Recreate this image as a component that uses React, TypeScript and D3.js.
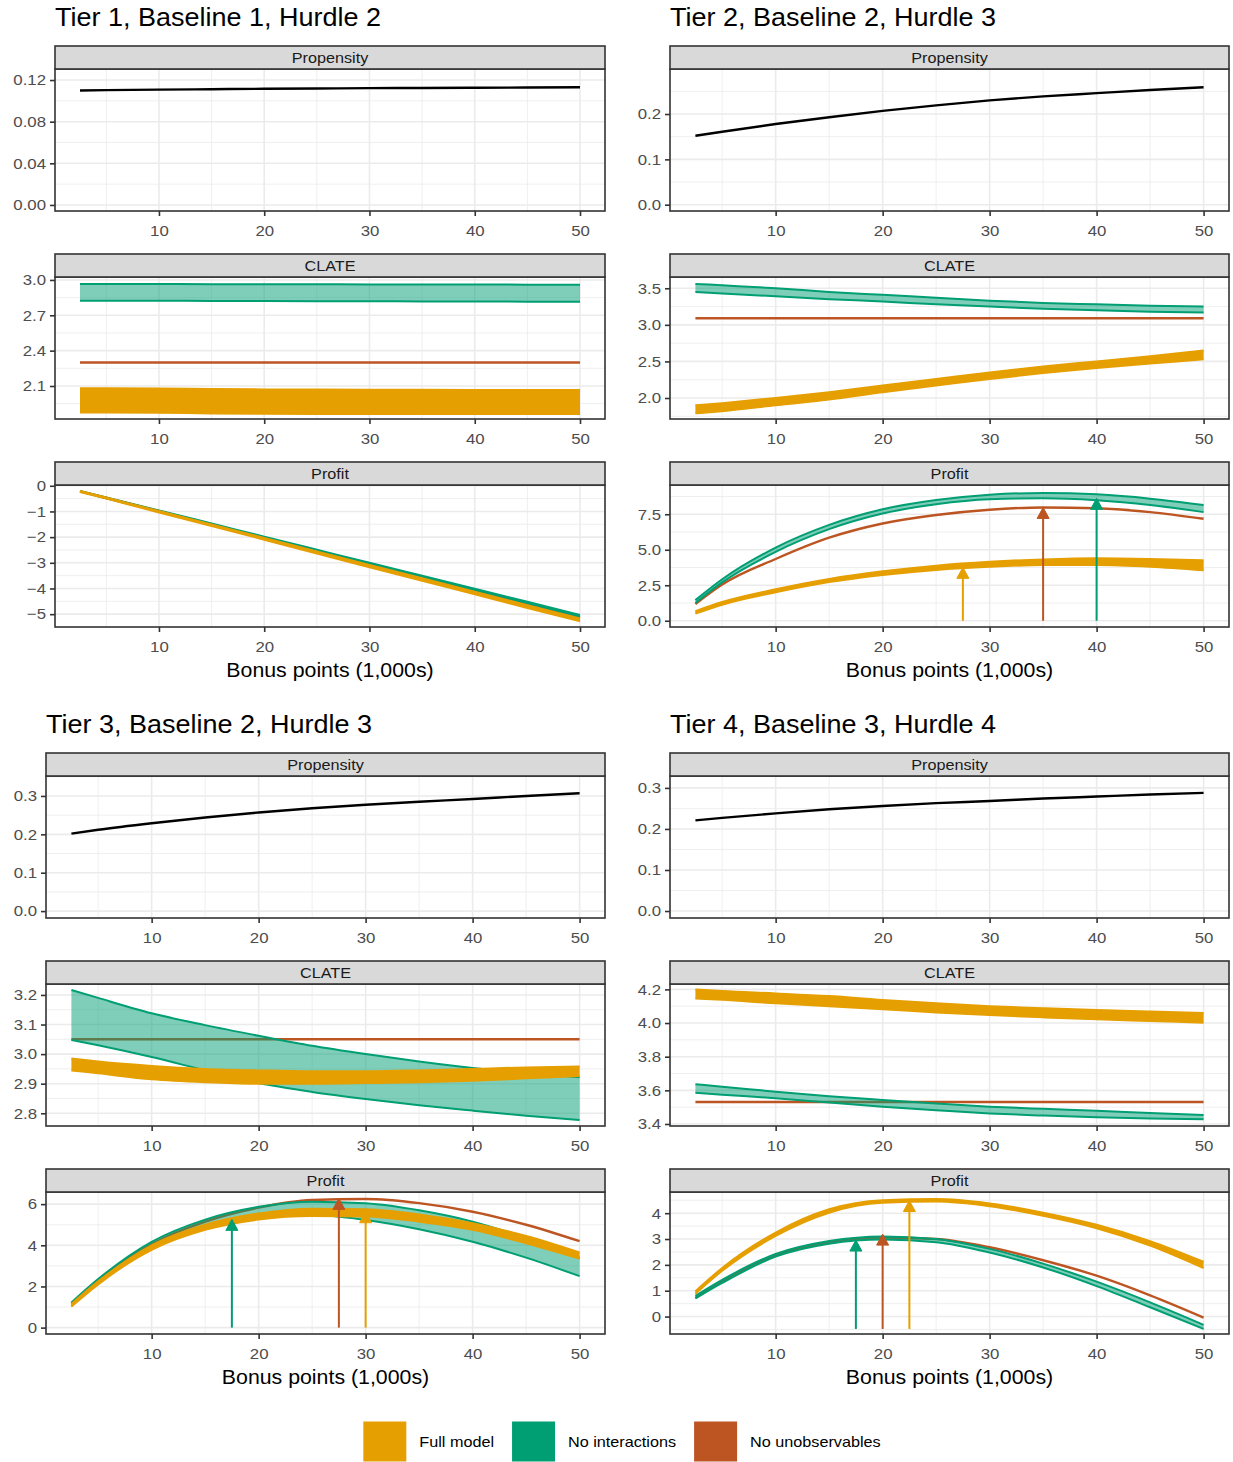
import React, { useEffect, useRef } from "react";
import * as d3 from "d3";

// bonus points (1,000s) at which the curves were evaluated
const bonus = [2.5, 5, 10, 15, 20, 25, 30, 35, 40, 45, 50];

const models = ["Full model", "No interactions", "No unobservables"];
const modelColors = ["#E69F00", "#009E73", "#BC5522"];
const facetNames = ["Propensity", "CLATE", "Profit"];

// ---------- Tier 1 ----------
const t1Propensity = [0.1100, 0.1103, 0.1108, 0.1112, 0.1116, 0.1119, 0.1122, 0.1124, 0.1126, 0.1128, 0.1130];
const t1ClateFullHi = [2.080, 2.080, 2.079, 2.074, 2.071, 2.070, 2.069, 2.068, 2.067, 2.066, 2.066];
const t1ClateFullLo = [1.876, 1.876, 1.874, 1.867, 1.864, 1.863, 1.863, 1.862, 1.862, 1.862, 1.862];
const t1ClateNoIntHi = [2.966, 2.966, 2.965, 2.964, 2.964, 2.963, 2.962, 2.962, 2.961, 2.960, 2.960];
const t1ClateNoIntLo = [2.824, 2.824, 2.823, 2.822, 2.821, 2.820, 2.819, 2.818, 2.817, 2.816, 2.816];
const t1ClateNoUnobs = [2.30, 2.30, 2.30, 2.30, 2.30, 2.30, 2.30, 2.30, 2.30, 2.30, 2.30];
const t1ProfitFullHi = [-0.20, -0.46, -0.98, -1.51, -2.03, -2.56, -3.08, -3.60, -4.13, -4.65, -5.17];
const t1ProfitFullLo = [-0.24, -0.50, -1.04, -1.57, -2.10, -2.64, -3.17, -3.70, -4.23, -4.76, -5.28];
const t1ProfitNoIntHi = [-0.20, -0.455, -0.96, -1.47, -1.98, -2.49, -3.00, -3.50, -4.01, -4.52, -5.03];
const t1ProfitNoIntLo = [-0.22, -0.485, -1.00, -1.51, -2.02, -2.53, -3.04, -3.56, -4.07, -4.58, -5.09];
const t1ProfitNoUnobs = [-0.22, -0.475, -0.99, -1.51, -2.03, -2.55, -3.06, -3.58, -4.10, -4.62, -5.14];
const t1Limits = [[-0.0058, 0.1306], [1.82, 3.025], [-5.5, 0.03]];
const t1Ticks = [[0, 0.04, 0.08, 0.12], [2.1, 2.4, 2.7, 3.0], [-5, -4, -3, -2, -1, 0]];
const t1TickLabels = [["0.00", "0.04", "0.08", "0.12"], ["2.1", "2.4", "2.7", "3.0"], ["\u22125", "\u22124", "\u22123", "\u22122", "\u22121", "0"]];

// ---------- Tier 2 ----------
const t2Propensity = [0.152, 0.161, 0.178, 0.193, 0.207, 0.219, 0.230, 0.239, 0.246, 0.253, 0.259];
const t2ClateFullHi = [1.90, 1.93, 2.00, 2.08, 2.17, 2.26, 2.35, 2.43, 2.50, 2.57, 2.65];
const t2ClateFullLo = [1.79, 1.82, 1.90, 1.98, 2.08, 2.17, 2.26, 2.34, 2.41, 2.47, 2.53];
const t2ClateNoIntHi = [3.56, 3.54, 3.50, 3.45, 3.41, 3.37, 3.33, 3.30, 3.28, 3.26, 3.25];
const t2ClateNoIntLo = [3.45, 3.43, 3.39, 3.35, 3.32, 3.28, 3.25, 3.22, 3.20, 3.18, 3.17];
const t2ClateNoUnobs = [3.09, 3.09, 3.09, 3.09, 3.09, 3.09, 3.09, 3.09, 3.09, 3.09, 3.09];
const t2ProfitFullHi = [0.68, 1.32, 2.22, 2.95, 3.48, 3.88, 4.15, 4.32, 4.40, 4.35, 4.25];
const t2ProfitFullLo = [0.50, 1.13, 2.00, 2.72, 3.22, 3.58, 3.80, 3.92, 3.92, 3.80, 3.55];
const t2ProfitNoIntHi = [1.45, 2.92, 5.15, 6.75, 7.85, 8.50, 8.88, 9.00, 8.90, 8.60, 8.15];
const t2ProfitNoIntLo = [1.25, 2.70, 4.85, 6.45, 7.55, 8.20, 8.55, 8.62, 8.48, 8.15, 7.65];
const t2ProfitNoUnobs = [1.18, 2.55, 4.35, 5.85, 6.85, 7.45, 7.82, 7.98, 7.92, 7.65, 7.18];
const t2ArrowModel = ["Full model", "No unobservables", "No interactions"];
const t2ArrowX = [27.5, 35, 40];
const t2ArrowTip = [3.76, 7.98, 8.62];
const t2Limits = [[-0.0139, 0.2993], [1.713, 3.654], [-0.44, 9.56]];
const t2Ticks = [[0, 0.1, 0.2], [2.0, 2.5, 3.0, 3.5], [0, 2.5, 5, 7.5]];
const t2TickLabels = [["0.0", "0.1", "0.2"], ["2.0", "2.5", "3.0", "3.5"], ["0.0", "2.5", "5.0", "7.5"]];

// ---------- Tier 3 ----------
const t3Propensity = [0.202, 0.212, 0.229, 0.244, 0.257, 0.268, 0.277, 0.285, 0.292, 0.300, 0.307];
const t3ClateFullHi = [2.985, 2.975, 2.960, 2.950, 2.945, 2.942, 2.942, 2.945, 2.950, 2.955, 2.958];
const t3ClateFullLo = [2.945, 2.935, 2.915, 2.905, 2.900, 2.900, 2.902, 2.905, 2.910, 2.918, 2.926];
const t3ClateNoIntHi = [3.217, 3.190, 3.138, 3.098, 3.062, 3.028, 3.000, 2.975, 2.953, 2.936, 2.922];
const t3ClateNoIntLo = [3.048, 3.030, 2.990, 2.945, 2.902, 2.872, 2.848, 2.827, 2.809, 2.792, 2.777];
const t3ClateNoUnobs = [3.05, 3.05, 3.05, 3.05, 3.05, 3.05, 3.05, 3.05, 3.05, 3.05, 3.05];
const t3ProfitFullHi = [1.15, 2.25, 4.00, 5.00, 5.55, 5.78, 5.75, 5.50, 5.07, 4.45, 3.65];
const t3ProfitFullLo = [1.02, 2.10, 3.78, 4.75, 5.25, 5.42, 5.40, 5.15, 4.75, 4.10, 3.35];
const t3ProfitNoIntHi = [1.22, 2.36, 4.17, 5.25, 5.87, 6.12, 6.04, 5.70, 5.15, 4.35, 3.40];
const t3ProfitNoIntLo = [1.05, 2.20, 3.93, 4.85, 5.36, 5.47, 5.23, 4.78, 4.17, 3.40, 2.50];
const t3ProfitNoUnobs = [1.15, 2.30, 4.05, 5.15, 5.83, 6.20, 6.25, 6.05, 5.63, 5.00, 4.20];
const t3ArrowModel = ["No interactions", "No unobservables", "Full model"];
const t3ArrowX = [17.5, 27.5, 30];
const t3ArrowTip = [5.26, 6.28, 5.63];
const t3Limits = [[-0.018, 0.352], [2.757, 3.237], [-0.31, 6.59]];
const t3Ticks = [[0, 0.1, 0.2, 0.3], [2.8, 2.9, 3.0, 3.1, 3.2], [0, 2, 4, 6]];
const t3TickLabels = [["0.0", "0.1", "0.2", "0.3"], ["2.8", "2.9", "3.0", "3.1", "3.2"], ["0", "2", "4", "6"]];

// ---------- Tier 4 ----------
const t4Propensity = [0.221, 0.227, 0.238, 0.248, 0.256, 0.263, 0.268, 0.274, 0.279, 0.284, 0.288];
const t4ClateFullHi = [4.200, 4.190, 4.176, 4.160, 4.137, 4.117, 4.100, 4.088, 4.077, 4.068, 4.060];
const t4ClateFullLo = [4.146, 4.138, 4.117, 4.100, 4.082, 4.063, 4.047, 4.034, 4.022, 4.012, 4.002];
const t4ClateNoIntHi = [3.636, 3.622, 3.592, 3.565, 3.543, 3.522, 3.503, 3.490, 3.479, 3.465, 3.453];
const t4ClateNoIntLo = [3.586, 3.574, 3.553, 3.527, 3.503, 3.482, 3.463, 3.450, 3.440, 3.432, 3.428];
const t4ClateNoUnobs = [3.531, 3.531, 3.531, 3.531, 3.531, 3.531, 3.531, 3.531, 3.531, 3.531, 3.531];
const t4ProfitFullHi = [0.98, 1.88, 3.25, 4.15, 4.50, 4.55, 4.38, 4.02, 3.55, 2.92, 2.12];
const t4ProfitFullLo = [0.88, 1.77, 3.12, 4.02, 4.40, 4.45, 4.27, 3.90, 3.42, 2.75, 1.88];
const t4ProfitNoIntHi = [0.80, 1.42, 2.42, 2.92, 3.10, 3.00, 2.62, 2.05, 1.35, 0.55, -0.32];
const t4ProfitNoIntLo = [0.70, 1.30, 2.32, 2.82, 2.98, 2.88, 2.48, 1.90, 1.18, 0.36, -0.48];
const t4ProfitNoUnobs = [0.72, 1.36, 2.36, 2.88, 3.06, 3.00, 2.68, 2.18, 1.58, 0.82, -0.04];
const t4ArrowModel = ["No interactions", "No unobservables", "Full model"];
const t4ArrowX = [17.5, 20, 22.5];
const t4ArrowTip = [2.96, 3.19, 4.49];
const t4Limits = [[-0.017, 0.329], [3.388, 4.232], [-0.675, 4.82]];
const t4Ticks = [[0, 0.1, 0.2, 0.3], [3.4, 3.6, 3.8, 4.0, 4.2], [0, 1, 2, 3, 4]];
const t4TickLabels = [["0.0", "0.1", "0.2", "0.3"], ["3.4", "3.6", "3.8", "4.0", "4.2"], ["0", "1", "2", "3", "4"]];

const tiers = [
  {
    title: "Tier 1, Baseline 1, Hurdle 2",
    propensity: t1Propensity,
    clate: { full: [t1ClateFullLo, t1ClateFullHi], noInt: [t1ClateNoIntLo, t1ClateNoIntHi], noUnobs: t1ClateNoUnobs },
    profit: { full: [t1ProfitFullLo, t1ProfitFullHi], noInt: [t1ProfitNoIntLo, t1ProfitNoIntHi], noUnobs: t1ProfitNoUnobs },
    arrows: { model: [], x: [], tip: [] },
    limits: t1Limits, ticks: t1Ticks, tickLabels: t1TickLabels,
  },
  {
    title: "Tier 2, Baseline 2, Hurdle 3",
    propensity: t2Propensity,
    clate: { full: [t2ClateFullLo, t2ClateFullHi], noInt: [t2ClateNoIntLo, t2ClateNoIntHi], noUnobs: t2ClateNoUnobs },
    profit: { full: [t2ProfitFullLo, t2ProfitFullHi], noInt: [t2ProfitNoIntLo, t2ProfitNoIntHi], noUnobs: t2ProfitNoUnobs },
    arrows: { model: t2ArrowModel, x: t2ArrowX, tip: t2ArrowTip },
    limits: t2Limits, ticks: t2Ticks, tickLabels: t2TickLabels,
  },
  {
    title: "Tier 3, Baseline 2, Hurdle 3",
    propensity: t3Propensity,
    clate: { full: [t3ClateFullLo, t3ClateFullHi], noInt: [t3ClateNoIntLo, t3ClateNoIntHi], noUnobs: t3ClateNoUnobs },
    profit: { full: [t3ProfitFullLo, t3ProfitFullHi], noInt: [t3ProfitNoIntLo, t3ProfitNoIntHi], noUnobs: t3ProfitNoUnobs },
    arrows: { model: t3ArrowModel, x: t3ArrowX, tip: t3ArrowTip },
    limits: t3Limits, ticks: t3Ticks, tickLabels: t3TickLabels,
  },
  {
    title: "Tier 4, Baseline 3, Hurdle 4",
    propensity: t4Propensity,
    clate: { full: [t4ClateFullLo, t4ClateFullHi], noInt: [t4ClateNoIntLo, t4ClateNoIntHi], noUnobs: t4ClateNoUnobs },
    profit: { full: [t4ProfitFullLo, t4ProfitFullHi], noInt: [t4ProfitNoIntLo, t4ProfitNoIntHi], noUnobs: t4ProfitNoUnobs },
    arrows: { model: t4ArrowModel, x: t4ArrowX, tip: t4ArrowTip },
    limits: t4Limits, ticks: t4Ticks, tickLabels: t4TickLabels,
  },
];

// layout of the four sub-plots (panel left / right edge, first strip top)
const W = 1233;
const H = 1462;
const blocks = [
  { left: 55, right: 605, top: 46 },
  { left: 670, right: 1229, top: 46 },
  { left: 46, right: 605, top: 753 },
  { left: 670, right: 1229, top: 753 },
];
const STRIP_H = 23;
const PANEL_H = 142;
const FACET_STEP = 208;
const FONT = "'Liberation Sans', Arial, Helvetica, sans-serif";
// the original text is a little wider than the font's natural width
const STRETCH = 1.08;
const TICK_STRETCH = 1.12;
const colorOf = (m) => modelColors[models.indexOf(m)];

//Adds a horizontally stretched text at (x, y)
function wideText(sel, x, y, s) {
  return sel.append("text")
    .attr("x", x / s).attr("y", y)
    .attr("transform", `scale(${s},1)`);
}

function App() {
  const svgRef = useRef(null);

  useEffect(() => {
    const svg = d3.select(svgRef.current);
    svg.selectAll("*").remove();
    svg.attr("font-family", FONT);
    svg.append("rect").attr("width", W).attr("height", H).attr("fill", "#fff");
    const defs = svg.append("defs");

    const xExt = d3.extent(bonus);
    const xPad = (xExt[1] - xExt[0]) * 0.05;

    blocks.forEach((b, bi) => {
      const tier = tiers[bi];
      const x = d3.scaleLinear().domain([xExt[0] - xPad, xExt[1] + xPad]).range([b.left, b.right]);

      wideText(svg, b.left, b.top - 20, STRETCH)
        .attr("font-size", 25).attr("fill", "#000")
        .text(tier.title);

      facetNames.forEach((name, fi) => {
        const stripTop = b.top + fi * FACET_STEP;
        const pTop = stripTop + STRIP_H;
        const pBot = pTop + PANEL_H;
        const lim = tier.limits[fi];
        const ticks = tier.ticks[fi];
        const labels = tier.tickLabels[fi];
        const y = d3.scaleLinear().domain(lim).range([pBot, pTop]);
        const g = svg.append("g");

        //panel background
        g.append("rect").attr("x", b.left).attr("y", pTop)
          .attr("width", b.right - b.left).attr("height", PANEL_H).attr("fill", "#fff");

        //grid lines, minor first
        const step = ticks[1] - ticks[0];
        const yMinor = [ticks[0] - step / 2, ...ticks.map(t => t + step / 2)]
          .filter(v => v > lim[0] && v < lim[1]);
        const xMajor = [10, 20, 30, 40, 50];
        const xMinor = [5, 15, 25, 35, 45];
        g.selectAll(".ymin").data(yMinor).join("line")
          .attr("x1", b.left).attr("x2", b.right)
          .attr("y1", d => y(d)).attr("y2", d => y(d))
          .attr("stroke", "#EBEBEB").attr("stroke-width", 0.8);
        g.selectAll(".xmin").data(xMinor).join("line")
          .attr("x1", d => x(d)).attr("x2", d => x(d))
          .attr("y1", pTop).attr("y2", pBot)
          .attr("stroke", "#EBEBEB").attr("stroke-width", 0.8);
        g.selectAll(".ymaj").data(ticks).join("line")
          .attr("x1", b.left).attr("x2", b.right)
          .attr("y1", d => y(d)).attr("y2", d => y(d))
          .attr("stroke", "#EBEBEB").attr("stroke-width", 1.6);
        g.selectAll(".xmaj").data(xMajor).join("line")
          .attr("x1", d => x(d)).attr("x2", d => x(d))
          .attr("y1", pTop).attr("y2", pBot)
          .attr("stroke", "#EBEBEB").attr("stroke-width", 1.6);

        //clip for the data
        const clipId = `clip-${bi}-${fi}`;
        defs.append("clipPath").attr("id", clipId)
          .append("rect").attr("x", b.left).attr("y", pTop)
          .attr("width", b.right - b.left).attr("height", PANEL_H);
        const data = g.append("g").attr("clip-path", `url(#${clipId})`);

        const line = d3.line().x((d, i) => x(bonus[i])).y(d => y(d)).curve(d3.curveMonotoneX);
        const area = d3.area().x((d, i) => x(bonus[i]))
          .y0(d => y(d[0])).y1(d => y(d[1])).curve(d3.curveMonotoneX);

        if (name === "Propensity") {
          data.append("path").attr("d", line(tier.propensity))
            .attr("fill", "none").attr("stroke", "#000").attr("stroke-width", 2.4);
        } else {
          const series = name === "CLATE" ? tier.clate : tier.profit;
          //No unobservables: single line
          data.append("path").attr("d", line(series.noUnobs))
            .attr("fill", "none").attr("stroke", colorOf("No unobservables")).attr("stroke-width", 2.4);
          //No interactions: translucent ribbon with edges
          const ni = series.noInt[0].map((v, i) => [v, series.noInt[1][i]]);
          data.append("path").attr("d", area(ni))
            .attr("fill", colorOf("No interactions")).attr("fill-opacity", 0.5);
          series.noInt.forEach(s => data.append("path").attr("d", line(s))
            .attr("fill", "none").attr("stroke", colorOf("No interactions")).attr("stroke-width", 2));
          //Full model: solid ribbon
          const fm = series.full[0].map((v, i) => [v, series.full[1][i]]);
          data.append("path").attr("d", area(fm)).attr("fill", colorOf("Full model"));
          series.full.forEach(s => data.append("path").attr("d", line(s))
            .attr("fill", "none").attr("stroke", colorOf("Full model")).attr("stroke-width", 2));

          //optimum arrows on profit
          if (name === "Profit") {
            const all = [...series.noUnobs, ...series.noInt[0], ...series.full[0]];
            const base = Math.min(0, d3.min(all));
            tier.arrows.x.forEach((ax, i) => {
              const c = colorOf(tier.arrows.model[i]);
              const tipY = y(tier.arrows.tip[i]);
              const headLen = 11, headW = 6;
              data.append("line")
                .attr("x1", x(ax)).attr("x2", x(ax))
                .attr("y1", y(base)).attr("y2", tipY + headLen - 1)
                .attr("stroke", c).attr("stroke-width", 2);
              data.append("path")
                .attr("d", `M${x(ax)},${tipY}L${x(ax) - headW},${tipY + headLen}L${x(ax) + headW},${tipY + headLen}Z`)
                .attr("fill", c).attr("stroke", c).attr("stroke-width", 1);
            });
          }
        }

        //panel border
        g.append("rect").attr("x", b.left).attr("y", pTop)
          .attr("width", b.right - b.left).attr("height", PANEL_H)
          .attr("fill", "none").attr("stroke", "#333333").attr("stroke-width", 1.6);

        //strip
        g.append("rect").attr("x", b.left).attr("y", stripTop)
          .attr("width", b.right - b.left).attr("height", STRIP_H)
          .attr("fill", "#D9D9D9").attr("stroke", "#333333").attr("stroke-width", 1.6);
        wideText(g, (b.left + b.right) / 2, stripTop + STRIP_H / 2, STRETCH)
          .attr("dy", "0.35em").attr("text-anchor", "middle")
          .attr("font-size", 15).attr("fill", "#1A1A1A").text(name);

        //axes
        const yAxis = g.append("g").attr("transform", `translate(${b.left},0)`)
          .call(d3.axisLeft(y).tickValues(ticks).tickFormat((d, i) => labels[i]).tickSize(5).tickPadding(4));
        const xAxis = g.append("g").attr("transform", `translate(0,${pBot})`)
          .call(d3.axisBottom(x).tickValues(xMajor).tickFormat(d3.format("d")).tickSize(5).tickPadding(9));
        [yAxis, xAxis].forEach(a => {
          a.select(".domain").remove();
          a.attr("font-family", FONT).attr("font-size", 15);
          a.selectAll("line").attr("stroke", "#333333").attr("stroke-width", 1.6);
          a.selectAll("text").attr("fill", "#4D4D4D")
            .attr("transform", `scale(${TICK_STRETCH},1)`);
        });
        yAxis.selectAll("text").attr("x", -9 / TICK_STRETCH);
      });

      //x axis title
      const lastBot = b.top + 2 * FACET_STEP + STRIP_H + PANEL_H;
      wideText(svg, (b.left + b.right) / 2, lastBot + 50, 1.04)
        .attr("text-anchor", "middle").attr("font-size", 20.5).attr("fill", "#000")
        .text("Bonus points (1,000s)");
    });

    //legend
    const legend = svg.append("g");
    const keyW = 43, keyH = 40, keyGap = 13, itemGap = 18;
    const items = models.map((m, i) => {
      const item = legend.append("g");
      item.append("rect").attr("width", keyW).attr("height", keyH).attr("fill", modelColors[i]);
      const t = wideText(item, keyW + keyGap, keyH / 2, STRETCH)
        .attr("dy", "0.35em").attr("font-size", 15).attr("fill", "#000").text(m);
      return { item, w: keyW + keyGap + t.node().getComputedTextLength() * STRETCH };
    });
    const total = d3.sum(items, d => d.w) + itemGap * (items.length - 1);
    let cx = 622 - total / 2;
    items.forEach(d => {
      d.item.attr("transform", `translate(${cx},1421.5)`);
      cx += d.w + itemGap;
    });
  }, []);

  return (
    <svg ref={svgRef} width={W} height={H}
      style={{ position: "absolute", left: 0, top: 0, display: "block" }} />
  );
}

export default App;
